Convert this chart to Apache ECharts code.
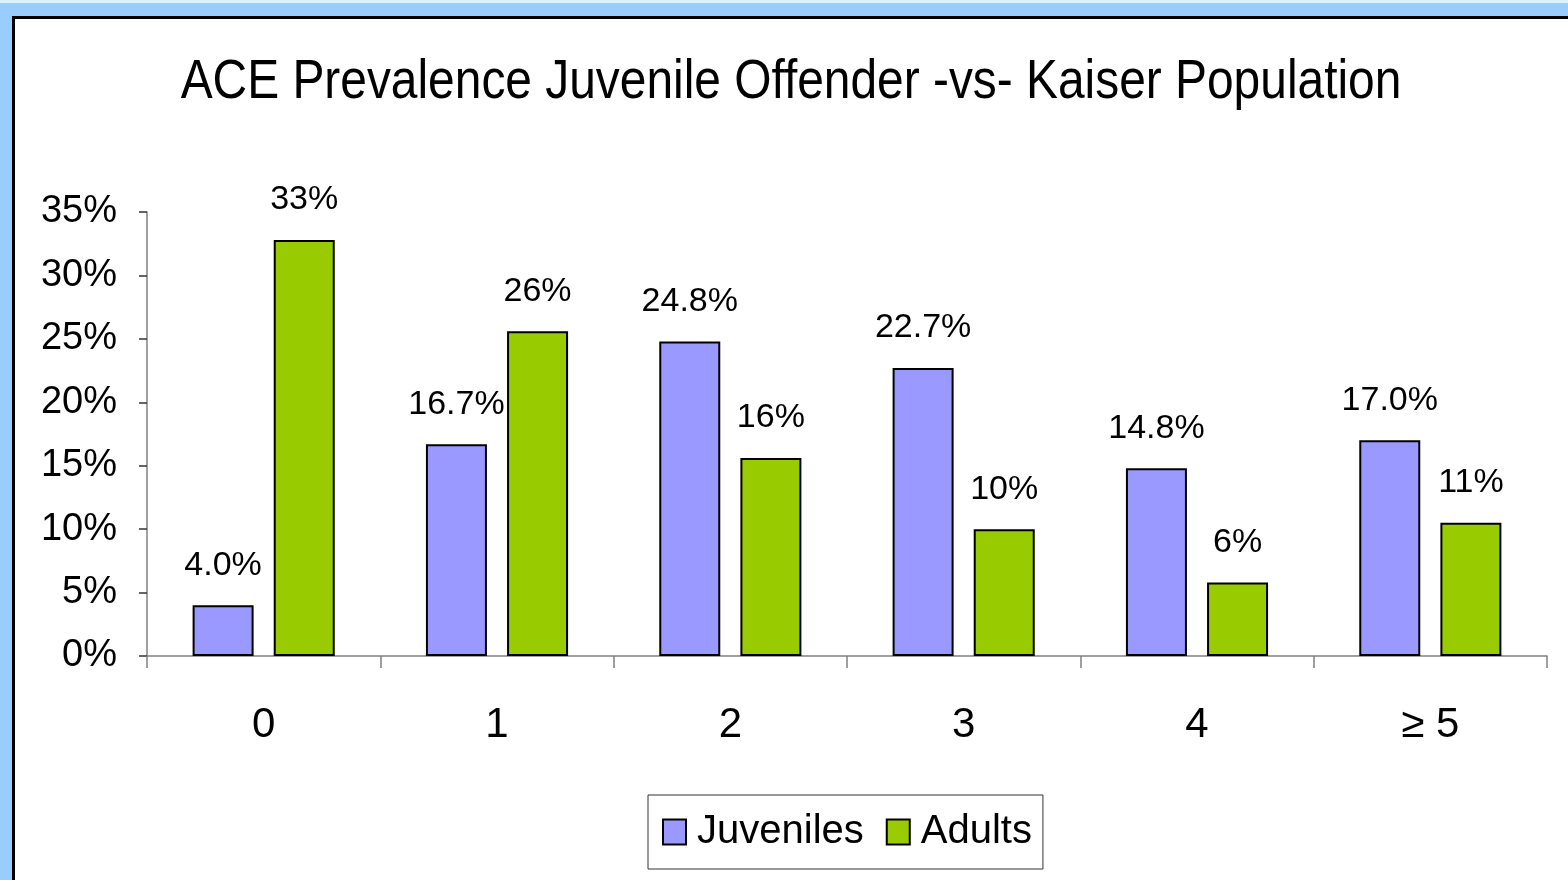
<!DOCTYPE html>
<html>
<head>
<meta charset="utf-8">
<script src="https://cdn.jsdelivr.net/npm/echarts@6/dist/echarts.min.js"></script>
<style>
  html, body { margin: 0; padding: 0; width: 1568px; height: 880px; overflow: hidden; background: #99ccff; }
  #topstrip { position: absolute; left: 0; top: 0; width: 1568px; height: 3px; background: #dff0fa; }
  #frame { position: absolute; left: 12px; top: 16px; width: 1556px; height: 864px; background: #ffffff;
           border-top: 3px solid #000; border-left: 3px solid #000; box-sizing: border-box; }
  #chart { position: absolute; left: 0; top: 0; width: 1568px; height: 880px; }
</style>
</head>
<body>
<div id="topstrip"></div>
<div id="frame"></div>
<div id="chart"></div>
<script>
const categories = ['0', '1', '2', '3', '4', '\u2265 5'];
const juveniles = [4.0, 16.7, 24.8, 22.7, 14.8, 17.0];
const adults = [32.8, 25.6, 15.6, 10.0, 5.8, 10.5];
const juvenileLabels = ['4.0%', '16.7%', '24.8%', '22.7%', '14.8%', '17.0%'];
const adultLabels = ['33%', '26%', '16%', '10%', '6%', '11%'];
const yTicks = [0, 5, 10, 15, 20, 25, 30, 35];
const titleText = 'ACE Prevalence Juvenile Offender -vs- Kaiser Population';

const FONT = '"Liberation Sans", Arial, sans-serif';

const chart = echarts.init(document.getElementById('chart'), null, { renderer: 'canvas' });
chart.setOption({
  backgroundColor: 'transparent',
  animation: false,
  graphic: [{
    type: 'text', x: 791, y: 55, scaleX: 0.855, scaleY: 1,
    style: { text: titleText, x: 0, y: 0, textAlign: 'center', textVerticalAlign: 'top',
      fontFamily: FONT, fontSize: 56, fill: '#000' }
  }],
  legend: {
    bottom: 11, left: 648,
    padding: [17, 11, 17, 14],
    borderColor: '#333', borderWidth: 1,
    icon: 'rect',
    itemWidth: 23, itemHeight: 25, itemGap: 22,
    itemStyle: { borderColor: '#000', borderWidth: 2 },
    textStyle: { fontFamily: FONT, fontSize: 40, color: '#000', padding: [0, 0, 0, 6] },
    data: ['Juveniles', 'Adults']
  },
  grid: { left: 147, right: 21, top: 212, bottom: 224, containLabel: false },
  xAxis: {
    type: 'category', data: categories,
    axisLine: { lineStyle: { color: '#808080', width: 1.5 } },
    axisTick: { show: true, length: 12, lineStyle: { color: '#808080', width: 1.5 } },
    axisLabel: { fontFamily: FONT, fontSize: 42, color: '#000', margin: 48 }
  },
  yAxis: {
    type: 'value', min: 0, max: 35, interval: 5,
    axisLine: { show: true, lineStyle: { color: '#808080', width: 1.5 } },
    axisTick: { show: true, length: 8, lineStyle: { color: '#333', width: 1.5 } },
    splitLine: { show: false },
    axisLabel: { fontFamily: FONT, fontSize: 38, color: '#000', margin: 30, padding: [6, 0, 0, 0],
      formatter: v => yTicks.includes(v) ? v + '%' : '' }
  },
  series: [
    {
      name: 'Juveniles', type: 'bar', data: juveniles,
      barWidth: 61, barGap: '33%',
      itemStyle: { color: '#9999ff', borderColor: '#000', borderWidth: 2 },
      label: { show: true, position: 'top', distance: 23, fontFamily: FONT, fontSize: 34, color: '#000',
        formatter: p => juvenileLabels[p.dataIndex] }
    },
    {
      name: 'Adults', type: 'bar', data: adults,
      barWidth: 61,
      itemStyle: { color: '#99cc00', borderColor: '#000', borderWidth: 2 },
      label: { show: true, position: 'top', distance: 23, fontFamily: FONT, fontSize: 34, color: '#000',
        formatter: p => adultLabels[p.dataIndex] }
    }
  ]
});
</script>
</body>
</html>
